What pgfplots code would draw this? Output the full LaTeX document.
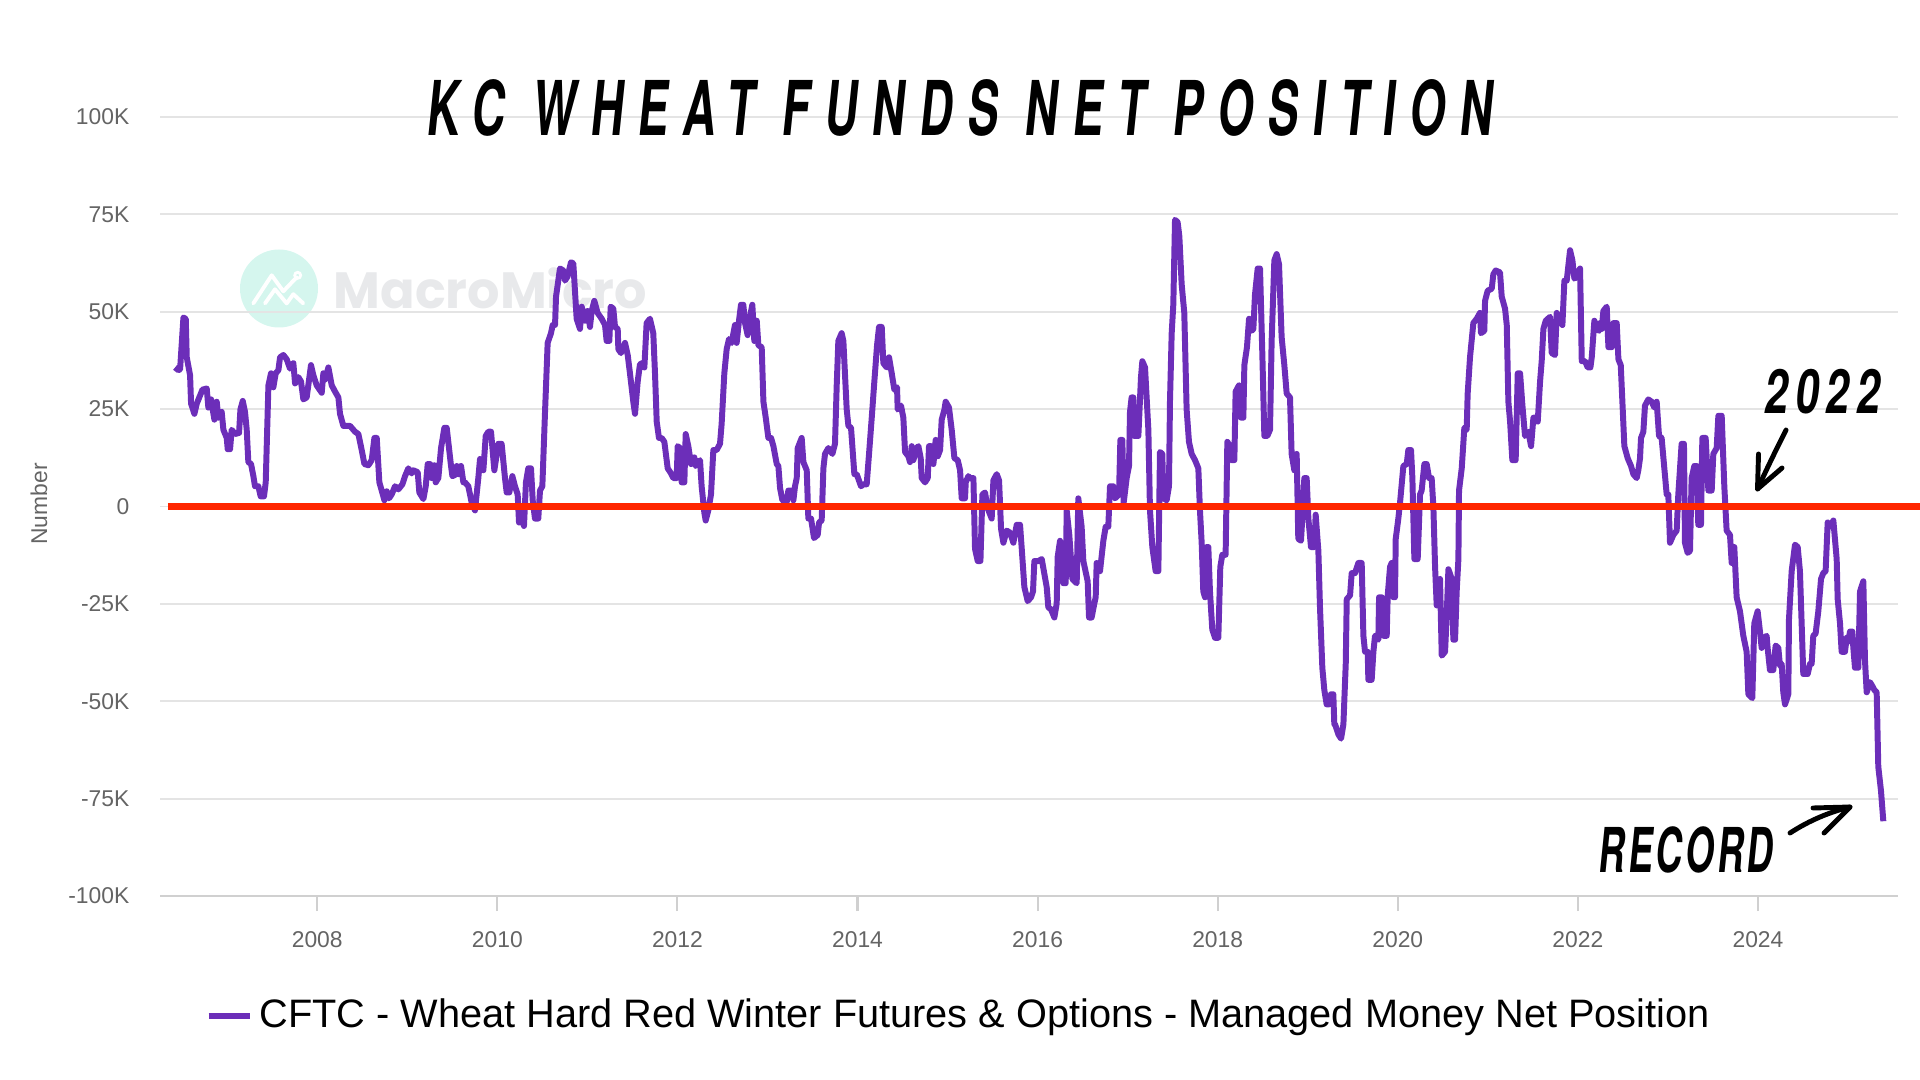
\documentclass[border=0pt]{standalone}
\usepackage{pgfplots}
\pgfplotsset{compat=1.18}
\usepackage{graphicx}
\usepackage{fontspec}
\setmainfont{Liberation Sans}
\newfontfamily\headfont[FakeSlant=0.17]{TeX Gyre Heros}
\newfontfamily\popfont{Poppins}
\definecolor{mmpurple}{RGB}{108,46,185}
\definecolor{zerored}{RGB}{255,38,0}
\definecolor{tickgrey}{RGB}{100,100,100}
\definecolor{gridgrey}{RGB}{228,228,228}
\definecolor{axisgrey}{RGB}{208,208,208}
\definecolor{mint}{RGB}{213,246,238}
\definecolor{wmgrey}{RGB}{232,233,235}
\begin{document}
\begin{tikzpicture}
\path[use as bounding box] (0cm,0cm) rectangle (19.2cm,-10.8cm);
% watermark
\fill[mint] (2.79cm,-2.885cm) circle (0.39cm);
\draw[white, line width=1.1pt, line cap=round, line join=round] (2.533cm,-3.034cm) -- (2.717cm,-2.753cm) -- (2.833cm,-2.913cm) -- (2.967cm,-2.773cm);
\draw[white, line width=1.1pt, line cap=round, line join=round] (2.65cm,-3.034cm) -- (2.75cm,-2.893cm) -- (2.867cm,-3.034cm) -- (2.933cm,-2.942cm) -- (3.033cm,-3.034cm);
\draw[white, line width=0.8pt] (2.977cm,-2.753cm) circle (0.03cm);
\node[anchor=base west, inner sep=0pt, text=wmgrey] at (3.33cm,-3.09cm) {\fontsize{14.5}{15}\popfont\bfseries MacroMicro};
\begin{axis}[
  at={(1.60cm,-8.96cm)}, anchor=south west,
  scale only axis, width=17.38cm, height=7.79cm,
  xmin=2006.254, xmax=2025.555, ymin=-100, ymax=100,
  clip=false,
  separate axis lines,
  axis x line*=bottom, axis y line*=left,
  y axis line style={draw=none},
  x axis line style={draw=axisgrey, line width=0.6pt},
  ytick={-100,-75,-50,-25,0,25,50,75,100},
  yticklabels={-100K,-75K,-50K,-25K,0,25K,50K,75K,100K},
  xtick={2008,2010,2012,2014,2016,2018,2020,2022,2024},
  xticklabels={2008,2010,2012,2014,2016,2018,2020,2022,2024},
  ytick style={draw=none},
  xtick style={draw=axisgrey, line width=0.6pt},
  tick align=outside, major tick length=0.15cm,
  ymajorgrids, grid style={draw=gridgrey, line width=0.55pt},
  tick label style={font=\fontsize{6.5}{7}\selectfont, text=tickgrey, inner sep=0pt},
  yticklabel style={anchor=east, xshift=-0.15cm},
  xticklabel style={anchor=north, yshift=-0.20cm},
  legend style={at={(0.461,-0.154)}, anchor=center, draw=none, fill=none,
    font=\fontsize{11.3}{13.5}\selectfont, inner sep=0pt},
  legend image code/.code={\draw[line width=1.6pt] (0cm,0cm) -- (0.41cm,0cm);},
]
\addplot[mmpurple, line width=1.7pt, line join=round] coordinates {
(2006.421,35.7)(2006.458,35.0)(2006.477,35.2)(2006.514,48.5)(2006.540,48.2)(2006.551,38.3)(2006.588,33.7)(2006.599,26.4)(2006.636,23.8)(2006.662,26.4)(2006.699,28.5)(2006.725,30.0)(2006.773,30.3)(2006.791,25.4)(2006.821,27.5)(2006.858,22.3)(2006.884,26.9)(2006.902,22.8)(2006.939,24.3)(2006.958,19.7)(2006.995,17.6)(2007.006,14.7)(2007.032,14.7)(2007.050,19.7)(2007.087,18.6)(2007.132,18.9)(2007.147,24.9)(2007.173,27.1)(2007.198,24.3)(2007.217,19.7)(2007.235,11.4)(2007.265,10.9)(2007.291,7.8)(2007.309,5.2)(2007.346,5.2)(2007.372,2.6)(2007.409,2.6)(2007.428,6.2)(2007.458,31.1)(2007.487,34.2)(2007.513,30.6)(2007.539,34.2)(2007.569,35.0)(2007.587,38.3)(2007.624,38.9)(2007.661,37.8)(2007.698,35.4)(2007.735,36.8)(2007.754,31.6)(2007.791,33.2)(2007.820,32.1)(2007.846,27.5)(2007.883,28.0)(2007.931,36.3)(2007.957,33.7)(2007.994,31.1)(2008.050,29.2)(2008.068,34.2)(2008.087,32.6)(2008.124,35.7)(2008.161,31.1)(2008.198,29.5)(2008.235,28.0)(2008.253,23.8)(2008.290,20.7)(2008.364,20.7)(2008.420,19.2)(2008.457,18.6)(2008.494,14.5)(2008.524,10.9)(2008.568,10.6)(2008.605,11.9)(2008.635,17.6)(2008.661,17.6)(2008.690,6.2)(2008.716,4.1)(2008.746,1.6)(2008.772,3.9)(2008.798,2.1)(2008.827,3.1)(2008.864,5.2)(2008.901,4.4)(2008.946,5.7)(2008.975,7.8)(2009.012,9.8)(2009.049,8.5)(2009.068,9.3)(2009.116,8.8)(2009.134,3.6)(2009.179,1.9)(2009.205,5.2)(2009.227,10.9)(2009.253,10.9)(2009.271,7.3)(2009.301,10.6)(2009.316,6.2)(2009.345,7.3)(2009.375,15.0)(2009.412,20.2)(2009.438,20.2)(2009.486,10.4)(2009.501,7.8)(2009.531,8.1)(2009.549,10.4)(2009.568,8.3)(2009.597,10.4)(2009.623,6.2)
(2009.641,6.2)(2009.678,5.2)(2009.715,1.0)(2009.752,-1.0)(2009.789,7.3)(2009.808,12.2)(2009.845,9.3)(2009.871,18.1)(2009.900,19.2)(2009.930,19.2)(2009.967,9.3)(2010.011,16.1)(2010.048,16.1)(2010.085,7.3)(2010.104,3.6)(2010.133,3.6)(2010.167,7.8)(2010.196,5.2)(2010.226,3.1)(2010.241,-4.1)(2010.270,-3.1)(2010.296,-5.0)(2010.318,6.2)(2010.344,9.8)(2010.374,9.8)(2010.393,1.6)(2010.418,-3.1)(2010.455,-3.1)(2010.474,4.1)(2010.500,5.2)(2010.529,23.8)(2010.559,42.0)(2010.596,44.5)(2010.615,46.6)(2010.641,46.6)(2010.652,53.9)(2010.696,61.1)(2010.733,60.6)(2010.752,58.0)(2010.781,59.1)(2010.818,62.7)(2010.844,62.4)(2010.881,48.2)(2010.918,45.6)(2010.937,51.3)(2010.974,47.7)(2011.003,50.2)(2011.029,46.1)(2011.048,50.2)(2011.077,52.8)(2011.114,49.7)(2011.159,48.2)(2011.196,46.6)(2011.214,42.5)(2011.244,42.5)(2011.259,51.3)(2011.288,50.8)(2011.307,46.1)(2011.337,45.6)(2011.344,40.4)(2011.373,39.4)(2011.418,42.0)(2011.448,38.9)(2011.473,34.2)(2011.510,26.9)(2011.529,23.8)(2011.559,32.1)(2011.584,36.5)(2011.610,36.8)(2011.633,35.7)(2011.658,47.1)(2011.695,48.2)(2011.732,44.5)(2011.751,34.2)(2011.770,21.8)(2011.795,17.6)(2011.825,17.6)(2011.855,16.6)(2011.892,9.8)(2011.929,8.5)(2011.955,7.3)(2011.992,7.3)(2012.003,15.5)(2012.029,15.0)(2012.047,6.2)(2012.077,6.2)(2012.092,18.6)(2012.121,15.5)(2012.151,10.9)(2012.188,12.6)(2012.203,10.4)(2012.251,11.9)(2012.269,5.2)(2012.299,-1.6)(2012.314,-3.6)(2012.343,-1.0)(2012.373,3.1)(2012.399,14.5)(2012.436,14.5)(2012.473,16.1)(2012.491,21.2)(2012.521,34.2)(2012.547,40.4)(2012.573,43.0)(2012.602,42.0)(2012.639,46.6)(2012.658,42.0)(2012.684,47.7)(2012.706,51.8)(2012.732,51.8)(2012.751,47.1)(2012.780,44.0)(2012.806,48.7)(2012.832,51.8)(2012.854,42.5)
(2012.881,47.7)(2012.899,41.4)(2012.936,40.9)(2012.955,26.9)(2012.981,22.8)(2013.010,17.6)(2013.040,17.6)(2013.066,15.5)(2013.103,10.9)(2013.121,10.4)(2013.140,4.7)(2013.166,1.6)(2013.214,1.2)(2013.232,4.1)(2013.269,4.1)(2013.288,1.6)(2013.306,5.2)(2013.325,7.3)(2013.336,15.0)(2013.380,17.6)(2013.399,11.4)(2013.436,9.3)(2013.454,-3.1)(2013.484,-3.1)(2013.517,-8.1)(2013.558,-7.3)(2013.573,-4.1)(2013.602,-3.6)(2013.621,9.8)(2013.639,13.5)(2013.676,15.0)(2013.721,13.5)(2013.750,16.1)(2013.769,31.1)(2013.787,42.5)(2013.824,44.5)(2013.843,42.5)(2013.880,24.9)(2013.899,20.7)(2013.928,20.2)(2013.965,8.3)(2013.991,8.3)(2014.039,5.2)(2014.065,5.7)(2014.102,5.7)(2014.128,13.5)(2014.158,22.8)(2014.187,32.1)(2014.217,41.4)(2014.239,46.1)(2014.269,46.1)(2014.287,36.8)(2014.324,35.7)(2014.350,38.3)(2014.380,34.2)(2014.409,30.0)(2014.439,30.6)(2014.446,24.9)(2014.483,25.9)(2014.509,22.8)(2014.528,14.0)(2014.565,12.9)(2014.583,11.4)(2014.602,15.5)(2014.620,11.9)(2014.657,15.0)(2014.676,15.5)(2014.702,12.4)(2014.713,7.3)(2014.750,6.2)(2014.780,7.3)(2014.794,15.5)(2014.817,15.5)(2014.843,10.9)(2014.868,17.1)(2014.891,12.9)(2014.917,14.5)(2014.935,22.3)(2014.965,24.9)(2014.979,26.9)(2015.016,25.4)(2015.046,19.7)(2015.076,12.4)(2015.113,11.9)(2015.139,9.3)(2015.157,2.1)(2015.194,2.1)(2015.202,6.2)(2015.231,7.8)(2015.250,7.3)(2015.287,7.3)(2015.305,-10.9)(2015.335,-14.0)(2015.365,-14.0)(2015.387,3.1)(2015.416,3.6)(2015.446,-0.5)(2015.490,-3.1)(2015.509,6.7)(2015.546,8.3)(2015.572,6.7)(2015.594,-5.7)(2015.620,-9.3)(2015.657,-6.2)(2015.694,-6.7)(2015.731,-9.3)(2015.768,-4.7)(2015.805,-4.7)(2015.824,-10.9)(2015.853,-20.7)(2015.890,-24.3)(2015.927,-23.3)(2015.949,-21.8)(2015.964,-14.0)(2016.009,-14.0)(2016.046,-13.5)
(2016.101,-20.7)(2016.119,-25.9)(2016.149,-26.4)(2016.186,-28.5)(2016.212,-24.9)(2016.223,-12.9)(2016.249,-8.8)(2016.267,-10.4)(2016.286,-19.7)(2016.312,-19.7)(2016.323,-1.0)(2016.352,-7.3)(2016.386,-18.6)(2016.434,-19.7)(2016.452,2.1)(2016.489,-5.2)(2016.508,-14.0)(2016.556,-19.2)(2016.571,-28.5)(2016.600,-28.5)(2016.630,-24.9)(2016.645,-23.3)(2016.656,-14.5)(2016.693,-16.6)(2016.730,-8.8)(2016.756,-5.2)(2016.785,-5.2)(2016.804,5.2)(2016.841,5.2)(2016.859,2.1)(2016.904,3.1)(2016.919,17.1)(2016.941,17.1)(2016.956,1.0)(2016.989,7.3)(2017.015,10.4)(2017.026,24.3)(2017.044,28.0)(2017.063,28.0)(2017.074,18.1)(2017.119,18.1)(2017.148,33.2)(2017.163,37.3)(2017.193,35.7)(2017.230,19.7)(2017.248,-1.0)(2017.274,-10.4)(2017.311,-16.6)(2017.341,-16.6)(2017.359,14.0)(2017.385,13.5)(2017.396,2.1)(2017.433,1.6)(2017.459,5.2)(2017.470,26.9)(2017.489,44.5)(2017.507,51.8)(2017.526,73.6)(2017.555,73.0)(2017.574,69.4)(2017.600,57.0)(2017.629,49.7)(2017.655,24.9)(2017.681,16.6)(2017.711,13.5)(2017.748,11.9)(2017.785,9.8)(2017.803,-1.0)(2017.822,-9.3)(2017.840,-21.8)(2017.859,-23.3)(2017.877,-10.4)(2017.896,-10.4)(2017.914,-21.8)(2017.940,-31.6)(2017.970,-33.7)(2018.007,-33.7)(2018.029,-15.5)(2018.051,-12.4)(2018.088,-12.4)(2018.107,16.6)(2018.137,15.5)(2018.155,11.9)(2018.185,11.9)(2018.199,29.5)(2018.236,31.1)(2018.259,22.8)(2018.285,22.8)(2018.296,36.3)(2018.325,40.9)(2018.348,48.2)(2018.377,45.1)(2018.396,45.6)(2018.414,54.4)(2018.444,61.1)(2018.470,61.1)(2018.496,38.8)(2018.518,18.1)(2018.551,18.1)(2018.581,19.7)(2018.599,42.5)(2018.629,63.2)(2018.655,64.8)(2018.681,62.2)(2018.710,43.5)(2018.740,36.3)(2018.766,29.0)(2018.803,28.0)(2018.821,13.5)(2018.851,9.3)(2018.877,13.5)(2018.895,-8.3)(2018.925,-8.8)(2018.944,-1.0)(2018.962,7.3)(2018.988,7.3)(2019.007,-3.1)(2019.036,-10.4)(2019.073,-10.4)(2019.088,-2.1)(2019.118,-11.4)(2019.136,-25.9)(2019.162,-41.4)(2019.184,-47.1)(2019.210,-50.8)(2019.236,-50.8)(2019.258,-48.2)(2019.284,-48.2)(2019.295,-55.9)
(2019.303,-55.9)(2019.340,-58.5)(2019.370,-59.6)(2019.396,-55.9)(2019.422,-40.4)(2019.433,-23.8)(2019.470,-22.8)(2019.488,-17.1)(2019.525,-17.1)(2019.562,-14.5)(2019.599,-14.5)(2019.618,-33.2)(2019.636,-37.3)(2019.666,-37.3)(2019.673,-44.5)(2019.710,-44.5)(2019.729,-37.3)(2019.747,-33.2)(2019.784,-34.2)(2019.792,-23.3)(2019.821,-23.3)(2019.840,-33.2)(2019.877,-33.2)(2019.888,-22.8)(2019.914,-15.5)(2019.932,-14.5)(2019.951,-23.3)(2019.969,-23.3)(2019.977,-8.3)(2020.006,-3.1)(2020.025,1.0)(2020.062,10.4)(2020.099,10.9)(2020.117,14.5)(2020.147,14.5)(2020.162,7.3)(2020.184,-13.5)(2020.221,-13.5)(2020.247,3.1)(2020.265,4.1)(2020.295,10.9)(2020.321,10.9)(2020.347,7.3)(2020.376,7.3)(2020.395,0.0)(2020.414,-15.5)(2020.432,-25.4)(2020.469,-18.6)(2020.488,-38.3)(2020.525,-37.3)(2020.543,-28.0)(2020.562,-16.1)(2020.599,-18.6)(2020.617,-34.2)(2020.636,-34.2)(2020.654,-21.8)(2020.673,-13.5)(2020.680,4.1)(2020.710,9.8)(2020.739,20.2)(2020.765,19.7)(2020.776,29.0)(2020.802,38.3)(2020.839,47.1)(2020.876,48.2)(2020.913,49.7)(2020.924,44.5)(2020.961,45.1)(2020.969,52.8)(2020.998,55.4)(2021.043,55.9)(2021.061,59.6)(2021.087,60.6)(2021.135,60.1)(2021.154,53.9)(2021.191,50.8)(2021.210,46.6)(2021.228,26.9)(2021.247,21.8)(2021.272,11.9)(2021.309,11.9)(2021.332,34.2)(2021.358,34.2)(2021.384,25.9)(2021.413,18.1)(2021.450,19.2)(2021.480,15.5)(2021.506,22.8)(2021.531,22.8)(2021.554,21.8)(2021.580,32.1)(2021.598,37.3)(2021.617,45.6)(2021.643,47.7)(2021.691,48.7)(2021.709,39.4)(2021.746,38.9)(2021.765,49.7)(2021.802,47.7)(2021.828,46.6)(2021.850,58.0)(2021.876,58.0)(2021.913,65.8)(2021.939,63.2)(2021.961,58.5)(2021.987,59.1)(2022.024,61.1)(2022.043,37.3)(2022.080,37.3)(2022.109,35.7)(2022.139,35.7)(2022.154,38.3)(2022.183,47.7)(2022.209,45.6)(2022.235,45.1)(2022.246,47.1)(2022.265,45.6)(2022.283,50.2)(2022.320,51.3)(2022.339,40.9)(2022.376,40.9)(2022.394,47.1)(2022.431,47.1)(2022.450,37.8)(2022.476,36.3)(2022.498,24.9)(2022.516,15.5)
(2022.553,12.4)(2022.590,10.4)(2022.616,8.3)(2022.653,7.3)(2022.671,9.3)(2022.690,12.4)(2022.701,17.6)(2022.727,19.2)(2022.745,25.9)(2022.782,27.5)(2022.819,26.9)(2022.849,25.4)(2022.875,26.9)(2022.901,18.1)(2022.930,17.6)(2022.960,9.8)(2022.986,3.1)(2023.004,3.1)(2023.023,-9.3)(2023.060,-7.3)(2023.097,-6.2)(2023.115,3.1)(2023.152,16.1)(2023.178,16.1)(2023.189,-9.3)(2023.219,-11.9)(2023.245,-11.4)(2023.263,7.3)(2023.293,10.4)(2023.319,10.4)(2023.337,-4.7)(2023.367,-4.7)(2023.382,17.6)(2023.419,17.6)(2023.449,4.1)(2023.486,4.1)(2023.504,13.5)(2023.541,15.0)(2023.560,23.3)(2023.597,23.3)(2023.626,5.2)(2023.652,-6.2)(2023.689,-7.3)(2023.708,-14.5)(2023.737,-10.4)(2023.763,-23.3)(2023.800,-26.9)(2023.837,-33.2)(2023.874,-37.3)(2023.893,-48.2)(2023.937,-49.2)(2023.959,-30.0)(2023.996,-26.9)(2024.022,-32.1)(2024.041,-36.3)(2024.070,-33.7)(2024.096,-33.2)(2024.107,-36.3)(2024.133,-42.0)(2024.170,-42.0)(2024.196,-35.7)(2024.226,-36.3)(2024.244,-40.9)(2024.263,-40.4)(2024.281,-47.7)(2024.300,-50.8)(2024.337,-48.2)(2024.344,-29.0)(2024.374,-16.6)(2024.411,-9.8)(2024.441,-10.4)(2024.466,-16.6)(2024.503,-43.0)(2024.552,-43.0)(2024.577,-40.4)(2024.596,-40.4)(2024.614,-33.2)(2024.640,-32.6)(2024.670,-26.9)(2024.700,-18.6)(2024.725,-17.1)(2024.751,-16.6)(2024.774,-4.1)(2024.800,-5.2)(2024.837,-3.6)(2024.874,-13.5)(2024.885,-23.8)(2024.911,-30.0)(2024.929,-37.3)(2024.966,-37.3)(2024.985,-33.7)(2025.003,-34.7)(2025.022,-32.1)(2025.048,-32.1)(2025.059,-36.3)(2025.077,-41.4)(2025.114,-41.4)(2025.133,-21.8)(2025.170,-19.2)(2025.188,-39.4)(2025.207,-47.7)(2025.244,-45.1)(2025.270,-46.1)(2025.292,-47.1)(2025.318,-47.7)(2025.336,-66.8)(2025.366,-73.0)(2025.392,-80.8)
};
\addlegendentry{CFTC - Wheat Hard Red Winter Futures \& Options - Managed Money Net Position}
\addplot[zerored, line width=1.9pt, forget plot] coordinates {(2006.342,0) (2025.80,0)};
\end{axis}
% y label
\node[rotate=90, text=tickgrey, inner sep=0pt, font=\fontsize{6.5}{7}\selectfont] at (0.39cm,-5.04cm) {Number};
% title
\node[inner sep=0pt] at (9.59cm,-1.075cm) {\scalebox{0.61}[1]{\fontsize{21.5}{22}\headfont\bfseries\addfontfeatures{LetterSpace=31}KC WHEAT FUNDS NET POSITION}};
% annotations
\node[inner sep=0pt] at (18.215cm,-3.92cm) {\scalebox{0.7}[1]{\fontsize{17.4}{18}\headfont\bfseries\addfontfeatures{LetterSpace=16}2022}};
\node[inner sep=0pt] at (16.85cm,-8.495cm) {\scalebox{0.6}[1]{\fontsize{17.6}{18}\headfont\bfseries\addfontfeatures{LetterSpace=8}RECORD}};
\draw[black, line width=1.4pt, line cap=round, line join=round] (17.86cm,-4.30cm) .. controls (17.76cm,-4.50cm) and (17.70cm,-4.62cm) .. (17.575cm,-4.89cm);
\draw[black, line width=1.4pt, line cap=round, line join=round] (17.585cm,-4.54cm) -- (17.575cm,-4.89cm) -- (17.82cm,-4.68cm);
\draw[black, line width=1.4pt, line cap=round, line join=round] (17.90cm,-8.33cm) .. controls (18.10cm,-8.20cm) and (18.30cm,-8.12cm) .. (18.50cm,-8.07cm);
\draw[black, line width=1.4pt, line cap=round, line join=round] (18.13cm,-8.08cm) -- (18.50cm,-8.07cm) -- (18.24cm,-8.33cm);
\end{tikzpicture}
\end{document}
